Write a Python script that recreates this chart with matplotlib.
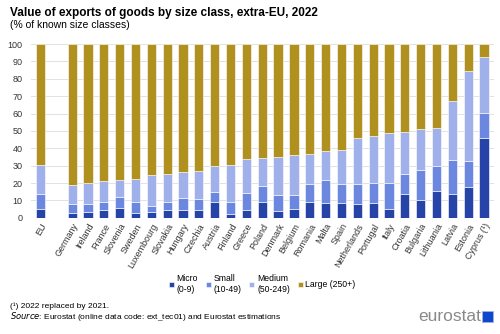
import matplotlib.pyplot as plt
from matplotlib.patches import Rectangle
import numpy as np

# categories (empty string = gap after EU)
countries = ["EU", "", "Germany", "Ireland", "France", "Slovenia", "Sweden", "Luxembourg",
             "Slovakia", "Hungary", "Czechia", "Austria", "Finland", "Greece", "Poland",
             "Denmark", "Belgium", "Romania", "Malta", "Spain", "Netherlands", "Portugal",
             "Italy", "Croatia", "Bulgaria", "Lithuania", "Latvia", "Estonia", "Cyprus (¹)"]

# shares in % of known size classes
micro = [5.2, 0, 2.9, 3.5, 4.4, 5.8, 2.5, 3.5, 4.4, 4.2, 4.2, 9.2, 1.9, 4.2, 9.0,
         4.0, 5.2, 9.2, 8.6, 8.6, 7.7, 8.3, 5.2, 13.4, 10.0, 15.7, 13.4, 18.0, 45.7]
small = [8.2, 0, 5.0, 4.6, 4.6, 5.9, 6.3, 3.4, 4.6, 7.1, 6.4, 5.4, 6.9, 9.8, 9.4,
         9.2, 8.0, 10.4, 13.1, 11.0, 11.9, 11.9, 15.1, 11.9, 17.4, 13.9, 19.8, 14.8, 14.8]
medium = [16.7, 0, 10.7, 11.7, 11.9, 9.8, 13.3, 17.5, 16.3, 15.0, 16.1, 15.2, 21.3, 19.6, 16.1,
          21.9, 22.7, 17.4, 16.5, 19.4, 26.5, 26.6, 28.6, 23.8, 23.7, 21.8, 33.8, 51.7, 31.8]
large = [100 - a - b - c if lbl else 0 for a, b, c, lbl in zip(micro, small, medium, countries)]

series = [("Micro\n(0-9)", micro, "#2644A7"),
          ("Small\n(10-49)", small, "#6B87E0"),
          ("Medium\n(50-249)", medium, "#A0B0EB"),
          ("Large (250+)", large, "#B09120")]

plt.rcParams['font.family'] = ['Liberation Sans', 'DejaVu Sans']

fig = plt.figure(figsize=(5, 3.34), dpi=100)
ax = fig.add_axes([0.062, 0.348, 0.925, 0.52])

x = np.arange(len(countries))
bottom = np.zeros(len(countries))
for name, vals, col in series:
    ax.bar(x, vals, 0.58, bottom=bottom, color=col, label=name,
           edgecolor="white", linewidth=0.4, zorder=3)
    bottom += np.array(vals)

ax.set_ylim(0, 100)
ax.set_xlim(-0.6, len(countries) - 0.4)
ax.set_yticks(range(0, 101, 10))
ax.tick_params(axis="y", labelsize=6.5, length=0, pad=6, colors="#333333")
ax.set_xticks(x)
ax.set_xticklabels(countries, rotation=60, ha="right", rotation_mode="anchor",
                   fontsize=6.5, color="#333333")
ax.tick_params(axis="x", length=0, pad=3)
ax.grid(axis="y", color="#DDDDDD", linewidth=0.6, zorder=0)
for s in ax.spines.values():
    s.set_visible(False)

fig.text(0.02, 0.962, "Value of exports of goods by size class, extra-EU, 2022",
         fontsize=8.5, fontweight="bold", va="center")
fig.text(0.02, 0.925, "(% of known size classes)", fontsize=7.5, va="center")

ax.legend(loc="upper center", bbox_to_anchor=(0.5, -0.28), ncol=4, frameon=False,
          fontsize=6.2, handlelength=0.6, handleheight=0.6, handletextpad=0.3,
          columnspacing=0.9)

fig.text(0.02, 0.084, "(¹) 2022 replaced by 2021.", fontsize=6, va="center")
fig.text(0.02, 0.051, r"$\it{Source}$: Eurostat (online data code: ext_tec01) and Eurostat estimations",
         fontsize=6, va="center")

# logo
fig.text(0.962, 0.052, "eurostat", fontsize=12.5, color="#8A8A8A", ha="right", va="center")
fig.patches.append(Rectangle((0.963, 0.036), 0.022, 0.034, transform=fig.transFigure,
                             facecolor="#0E47CB", edgecolor="#9DB3E0", linewidth=0.6))

fig.savefig("out.png", dpi=100)
